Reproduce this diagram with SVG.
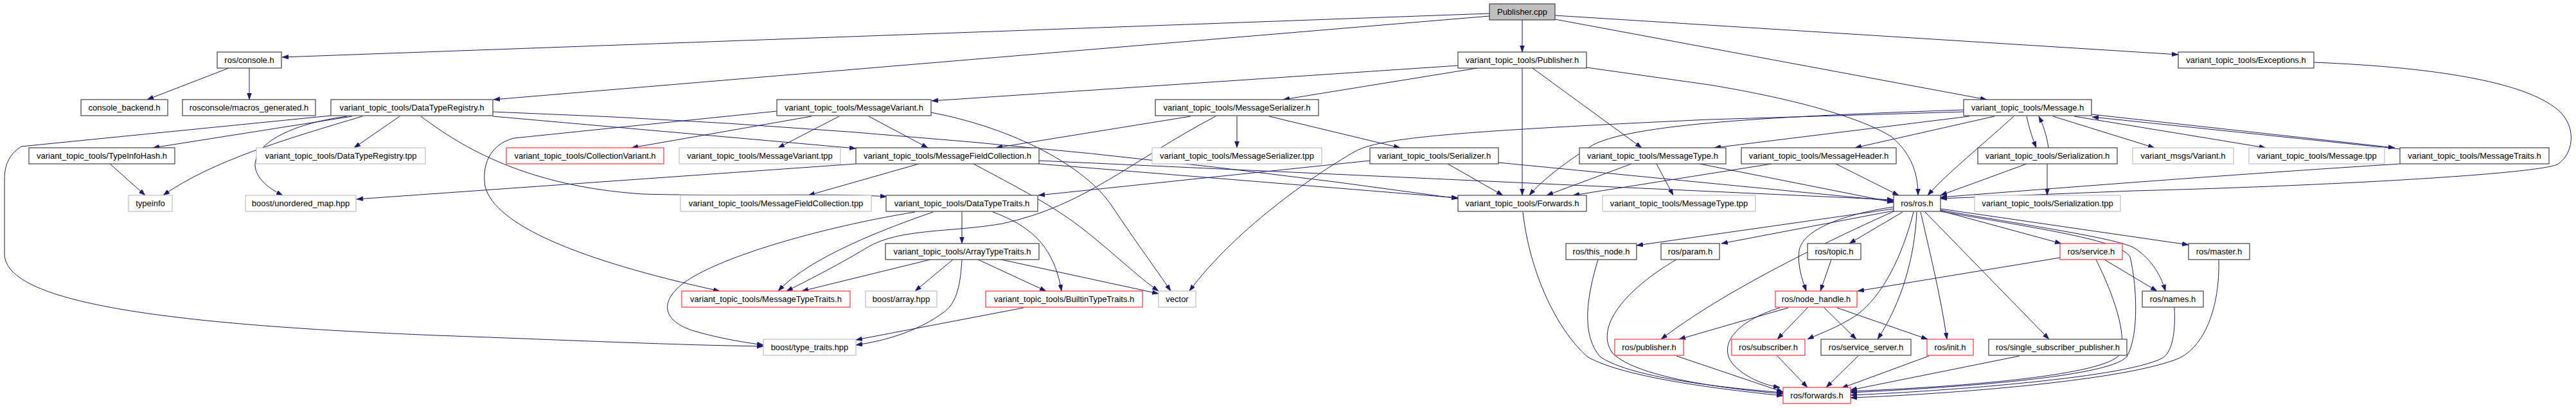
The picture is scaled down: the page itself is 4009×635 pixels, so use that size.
<svg xmlns="http://www.w3.org/2000/svg" width="4009" height="635" viewBox="0 0 4009 635">
<style>
text{font-family:"Liberation Sans",Arial,Helvetica,sans-serif;font-size:13px;text-anchor:middle;fill:#000}
.b{fill:#fff;stroke:#404040;stroke-width:1.2}
.g{fill:#fff;stroke:#bfbfbf;stroke-width:1.2}
.r{fill:#fff;stroke:#ff3030;stroke-width:1.2}
.root{fill:#bfbfbf;stroke:#404040;stroke-width:1.2}
#edges path{fill:none;stroke:#191970;stroke-width:1;marker-end:url(#a)}
</style>
<defs>
<marker id="a" markerUnits="userSpaceOnUse" markerWidth="11" markerHeight="8" refX="10" refY="3.5" orient="auto">
<path d="M0,0 L10,3.5 L0,7 Z" fill="#191970" stroke="#191970" stroke-width="0.5"/>
</marker>
</defs>
<rect width="4009" height="635" fill="#fff"/>
<g id="edges">
<path d="M2318,21 L439,89"/>
<path d="M2318,25 L768,155"/>
<path d="M2369,31 L2369,81"/>
<path d="M2420,30 L3092,155"/>
<path d="M2420,24 L3390,85"/>
<path d="M356,106 L229,155"/>
<path d="M388,106 L388,155"/>
<path d="M548,181 L238,230"/>
<path d="M564,181 C450,215 330,250 254,304"/>
<path d="M540,181 C400,200 355,262 440,304"/>
<path d="M622,181 L551,230"/>
<path d="M515,180 L33,228 C15,240 7,255 7,280 L7,395 C7,470 250,505 680,522 C900,530 1050,537 1188,539"/>
<path d="M655,181 C720,230 820,290 1000,302 C1150,306 1300,300 1380,306"/>
<path d="M767,181 L1332,231"/>
<path d="M767,174 Q1500,200 2269,309"/>
<path d="M1263,181 L983,230"/>
<path d="M1306,181 L1211,230"/>
<path d="M1352,181 L1444,230"/>
<path d="M1209,173 L800,215 C760,225 750,260 755,290 C770,350 900,405 1120,453"/>
<path d="M1449,175 C1580,200 1690,260 1730,320 C1770,380 1800,420 1822,453"/>
<path d="M1515,255 C1580,290 1640,320 1690,360 C1740,400 1770,430 1803,453"/>
<path d="M1430,255 L1258,304"/>
<path d="M1332,255 L555,310"/>
<path d="M1617,255 L2269,308"/>
<path d="M1617,250 L2947,311"/>
<path d="M1853,181 L1550,230"/>
<path d="M1925,181 L1925,230"/>
<path d="M1975,181 L2179,230"/>
<path d="M1892,181 C1760,250 1690,320 1560,348 C1480,362 1400,355 1350,385 C1300,415 1250,440 1224,453"/>
<path d="M2132,250 L1616,304"/>
<path d="M2253,255 L2339,304"/>
<path d="M2332,253 L2947,313"/>
<path d="M2539,255 L2407,304"/>
<path d="M2578,255 L2604,304"/>
<path d="M2645,255 L2947,315"/>
<path d="M2757,255 L2448,304"/>
<path d="M2857,255 L2955,304"/>
<path d="M3065,181 L2668,230"/>
<path d="M3104,181 L2887,230"/>
<path d="M3154,181 C3158,200 3163,215 3169,230"/>
<path d="M3134,181 C3080,230 3030,270 3000,304"/>
<path d="M3195,181 L3353,230"/>
<path d="M3228,181 L3526,230"/>
<path d="M3255,178 L3727,230"/>
<path d="M3056,171 C2800,180 2550,190 2480,225 C2440,250 2400,280 2380,304"/>
<path d="M3056,174 L2660,186 C2250,205 2150,215 2110,235 C2040,275 1920,360 1851,453"/>
<path d="M3188,230 C3185,210 3180,195 3173,181"/>
<path d="M3154,255 L3020,304"/>
<path d="M3186,255 L3186,304"/>
<path d="M3735,232 L3256,182"/>
<path d="M3735,255 C3500,270 3300,285 3020,307"/>
<path d="M3601,97 C3800,105 3940,130 3985,175 C4010,200 4005,240 3980,256 C3940,272 3600,290 3320,297 L3020,309"/>
<path d="M2269,102 L1450,157"/>
<path d="M2299,106 L1997,155"/>
<path d="M2369,106 L2369,304"/>
<path d="M2385,106 L2555,230"/>
<path d="M2469,105 L2660,132 C2800,155 2900,185 2944,213 C2975,240 2985,270 2985,304"/>
<path d="M1497,330 L1497,379"/>
<path d="M1545,330 C1600,350 1640,380 1652,453"/>
<path d="M1452,330 C1380,355 1260,400 1211,453"/>
<path d="M1424,330 C1300,350 1150,390 1080,430 C1020,465 1030,500 1080,515 C1120,527 1160,533 1188,537"/>
<path d="M1448,404 L1248,453"/>
<path d="M1483,404 L1424,453"/>
<path d="M1522,404 L1628,453"/>
<path d="M1558,404 L1803,457"/>
<path d="M1497,404 C1495,440 1490,470 1470,485 C1430,515 1380,530 1332,537"/>
<path d="M1593,479 L1332,529"/>
<path d="M171,255 L226,304"/>
<path d="M2947,325 L2547,382"/>
<path d="M2947,328 L2679,379"/>
<path d="M2947,329 Q2700,440 2585,528"/>
<path d="M2961,330 L2878,379"/>
<path d="M2947,322 C2860,335 2805,360 2800,390 C2797,415 2805,435 2811,453"/>
<path d="M2978,330 C2960,400 2930,460 2890,490 C2860,510 2830,520 2813,528"/>
<path d="M2983,330 C2980,400 2960,470 2922,528"/>
<path d="M2989,330 C3005,400 3020,460 3030,528"/>
<path d="M2996,330 L3189,528"/>
<path d="M3020,328 L3208,379"/>
<path d="M3020,325 L3406,381"/>
<path d="M3020,327 C3150,350 3290,370 3320,385 C3345,400 3362,425 3370,453"/>
<path d="M3020,329 C3200,360 3300,375 3315,400 C3325,440 3330,520 3310,555 C3280,590 3000,605 2880,611"/>
<path d="M3206,401 L2891,453"/>
<path d="M3275,404 L3357,453"/>
<path d="M3262,404 C3290,460 3310,520 3300,550 C3285,580 3100,600 2880,609"/>
<path d="M3384,479 C3386,520 3380,550 3364,558 C3300,590 3000,610 2880,615"/>
<path d="M3453,404 C3455,480 3430,540 3390,558 C3300,595 3000,615 2880,619"/>
<path d="M2850,404 L2833,453"/>
<path d="M2783,479 L2613,528"/>
<path d="M2813,479 L2766,528"/>
<path d="M2839,479 L2889,528"/>
<path d="M2859,479 L3000,528"/>
<path d="M2770,479 C2700,500 2670,540 2700,570 C2720,590 2750,600 2770,603"/>
<path d="M2766,554 L2813,603"/>
<path d="M2892,554 L2842,603"/>
<path d="M3002,554 L2866,604"/>
<path d="M3143,554 L2880,607"/>
<path d="M2487,404 C2470,460 2460,520 2490,555 C2540,590 2700,605 2775,611"/>
<path d="M2609,404 C2530,450 2480,510 2510,550 C2550,590 2700,606 2775,613"/>
<path d="M2370,330 C2380,420 2420,510 2470,555 C2530,590 2700,608 2775,616"/>
<path d="M2609,554 L2775,610"/>
</g>
<g id="n_pub_cpp"><rect class="root" x="2318" y="6" width="102" height="25"/><text x="2369" y="23">Publisher.cpp</text></g>
<g id="n_console"><rect class="b" x="338" y="81" width="100" height="25"/><text x="388" y="98">ros/console.h</text></g>
<g id="n_pub_h"><rect class="b" x="2269" y="81" width="200" height="25"/><text x="2369" y="98">variant_topic_tools/Publisher.h</text></g>
<g id="n_exc"><rect class="b" x="3390" y="81" width="211" height="25"/><text x="3495.5" y="98">variant_topic_tools/Exceptions.h</text></g>
<g id="n_cback"><rect class="b" x="126" y="155" width="135" height="25"/><text x="193.5" y="172">console_backend.h</text></g>
<g id="n_macros"><rect class="b" x="284" y="155" width="207" height="25"/><text x="387.5" y="172">rosconsole/macros_generated.h</text></g>
<g id="n_dtr"><rect class="b" x="515" y="155" width="252" height="25"/><text x="641" y="172">variant_topic_tools/DataTypeRegistry.h</text></g>
<g id="n_mv"><rect class="b" x="1209" y="155" width="240" height="25"/><text x="1329" y="172">variant_topic_tools/MessageVariant.h</text></g>
<g id="n_ms"><rect class="b" x="1798" y="155" width="254" height="25"/><text x="1925" y="172">variant_topic_tools/MessageSerializer.h</text></g>
<g id="n_msg"><rect class="b" x="3056" y="155" width="199" height="25"/><text x="3155.5" y="172">variant_topic_tools/Message.h</text></g>
<g id="n_tih"><rect class="b" x="45" y="230" width="227" height="25"/><text x="158.5" y="247">variant_topic_tools/TypeInfoHash.h</text></g>
<g id="n_dtrtpp"><rect class="g" x="399" y="230" width="263" height="25"/><text x="530.5" y="247">variant_topic_tools/DataTypeRegistry.tpp</text></g>
<g id="n_cv"><rect class="r" x="788" y="230" width="245" height="25"/><text x="910.5" y="247">variant_topic_tools/CollectionVariant.h</text></g>
<g id="n_mvtpp"><rect class="g" x="1057" y="230" width="251" height="25"/><text x="1182.5" y="247">variant_topic_tools/MessageVariant.tpp</text></g>
<g id="n_mfc"><rect class="b" x="1332" y="230" width="285" height="25"/><text x="1474.5" y="247">variant_topic_tools/MessageFieldCollection.h</text></g>
<g id="n_mstpp"><rect class="g" x="1793" y="230" width="264" height="25"/><text x="1925" y="247">variant_topic_tools/MessageSerializer.tpp</text></g>
<g id="n_ser"><rect class="b" x="2132" y="230" width="200" height="25"/><text x="2232" y="247">variant_topic_tools/Serializer.h</text></g>
<g id="n_mt"><rect class="b" x="2458" y="230" width="228" height="25"/><text x="2572" y="247">variant_topic_tools/MessageType.h</text></g>
<g id="n_mh"><rect class="b" x="2710" y="230" width="241" height="25"/><text x="2830.5" y="247">variant_topic_tools/MessageHeader.h</text></g>
<g id="n_sn"><rect class="b" x="3078" y="230" width="217" height="25"/><text x="3186.5" y="247">variant_topic_tools/Serialization.h</text></g>
<g id="n_var"><rect class="g" x="3319" y="230" width="157" height="25"/><text x="3397.5" y="247">variant_msgs/Variant.h</text></g>
<g id="n_mtpp"><rect class="g" x="3500" y="230" width="211" height="25"/><text x="3605.5" y="247">variant_topic_tools/Message.tpp</text></g>
<g id="n_mtr"><rect class="b" x="3735" y="230" width="232" height="25"/><text x="3851" y="247">variant_topic_tools/MessageTraits.h</text></g>
<g id="n_ti"><rect class="g" x="200" y="304" width="68" height="25"/><text x="234" y="321">typeinfo</text></g>
<g id="n_um"><rect class="g" x="382" y="304" width="172" height="25"/><text x="468" y="321">boost/unordered_map.hpp</text></g>
<g id="n_mfctpp"><rect class="g" x="1059" y="304" width="297" height="25"/><text x="1207.5" y="321">variant_topic_tools/MessageFieldCollection.tpp</text></g>
<g id="n_dtt"><rect class="b" x="1379" y="304" width="236" height="25"/><text x="1497" y="321">variant_topic_tools/DataTypeTraits.h</text></g>
<g id="n_fw"><rect class="b" x="2269" y="304" width="200" height="25"/><text x="2369" y="321">variant_topic_tools/Forwards.h</text></g>
<g id="n_mttpp"><rect class="g" x="2494" y="304" width="238" height="25"/><text x="2613" y="321">variant_topic_tools/MessageType.tpp</text></g>
<g id="n_ros"><rect class="b" x="2947" y="304" width="73" height="25"/><text x="2983.5" y="321">ros/ros.h</text></g>
<g id="n_sntpp"><rect class="g" x="3073" y="304" width="227" height="25"/><text x="3186.5" y="321">variant_topic_tools/Serialization.tpp</text></g>
<g id="n_att"><rect class="b" x="1378" y="379" width="239" height="25"/><text x="1497.5" y="396">variant_topic_tools/ArrayTypeTraits.h</text></g>
<g id="n_this"><rect class="b" x="2437" y="379" width="110" height="25"/><text x="2492" y="396">ros/this_node.h</text></g>
<g id="n_param"><rect class="b" x="2585" y="379" width="91" height="25"/><text x="2630.5" y="396">ros/param.h</text></g>
<g id="n_topic"><rect class="b" x="2813" y="379" width="83" height="25"/><text x="2854.5" y="396">ros/topic.h</text></g>
<g id="n_service"><rect class="r" x="3206" y="379" width="97" height="25"/><text x="3254.5" y="396">ros/service.h</text></g>
<g id="n_master"><rect class="b" x="3406" y="379" width="95" height="25"/><text x="3453.5" y="396">ros/master.h</text></g>
<g id="n_mtt"><rect class="r" x="1061" y="453" width="262" height="25"/><text x="1192" y="470">variant_topic_tools/MessageTypeTraits.h</text></g>
<g id="n_arr"><rect class="g" x="1347" y="453" width="111" height="25"/><text x="1402.5" y="470">boost/array.hpp</text></g>
<g id="n_btt"><rect class="r" x="1534" y="453" width="244" height="25"/><text x="1656" y="470">variant_topic_tools/BuiltinTypeTraits.h</text></g>
<g id="n_vec"><rect class="g" x="1803" y="453" width="58" height="25"/><text x="1832" y="470">vector</text></g>
<g id="n_nh"><rect class="r" x="2763" y="453" width="127" height="25"/><text x="2826.5" y="470">ros/node_handle.h</text></g>
<g id="n_names"><rect class="b" x="3334" y="453" width="95" height="25"/><text x="3381.5" y="470">ros/names.h</text></g>
<g id="n_tt"><rect class="g" x="1188" y="528" width="144" height="25"/><text x="1260" y="545">boost/type_traits.hpp</text></g>
<g id="n_rpub"><rect class="r" x="2513" y="528" width="107" height="25"/><text x="2566.5" y="545">ros/publisher.h</text></g>
<g id="n_sub"><rect class="r" x="2695" y="528" width="114" height="25"/><text x="2752" y="545">ros/subscriber.h</text></g>
<g id="n_ss"><rect class="b" x="2834" y="528" width="140" height="25"/><text x="2904" y="545">ros/service_server.h</text></g>
<g id="n_init"><rect class="r" x="2999" y="528" width="72" height="25"/><text x="3035" y="545">ros/init.h</text></g>
<g id="n_ssp"><rect class="b" x="3095" y="528" width="215" height="25"/><text x="3202.5" y="545">ros/single_subscriber_publisher.h</text></g>
<g id="n_rfw"><rect class="r" x="2775" y="603" width="105" height="25"/><text x="2827.5" y="620">ros/forwards.h</text></g>
</svg>
